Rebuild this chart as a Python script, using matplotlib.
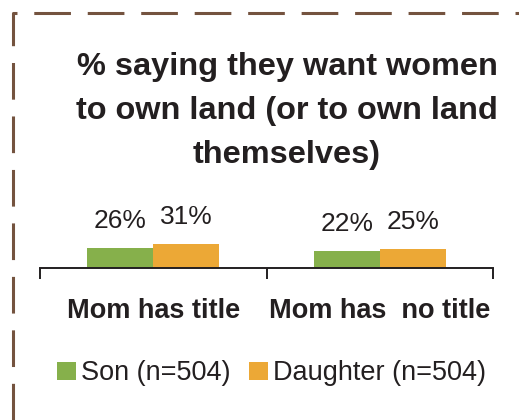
import matplotlib
matplotlib.use("Agg")
import matplotlib.pyplot as plt
from matplotlib.lines import Line2D
from matplotlib.patches import Patch
import numpy as np

plt.rcParams['font.family'] = ['Liberation Sans', 'DejaVu Sans']

categories = ["Mom has title", "Mom has  no title"]
series_names = ["Son (n=504)", "Daughter (n=504)"]
son = [26, 22]
daughter = [31, 25]
value_labels_son = ["26%", "22%"]
value_labels_daughter = ["31%", "25%"]
title = "% saying they want women\nto own land (or to own land\nthemselves)"

GREEN = "#86b04b"
ORANGE = "#eca836"
TEXT = "#231f20"
BORDER = "#74533f"

W, H = 519, 420
fig = plt.figure(figsize=(W / 100, H / 100), dpi=100)

def fx(px):
    return px / W

def fy(py):
    return 1 - py / H

# dashed border (left and top)
fig.add_artist(Line2D([fx(13), fx(13), fx(519)], [fy(420), fy(13), fy(13)],
                      transform=fig.transFigure, color=BORDER, lw=2.2,
                      linestyle=(0, (12, 5.5))))

# axes: baseline at y=268px, x from 40 to 493px
ax_left, ax_right = 40, 493
ax_bottom, ax_top = 268, 168
ax = fig.add_axes([fx(ax_left), fy(ax_bottom), fx(ax_right - ax_left), (ax_bottom - ax_top) / H])
ax.set_xlim(-0.5, 1.5)
ax.set_ylim(0, 131.5)

x = np.arange(len(categories))
bw = 0.291
ax.bar(x - bw / 2, son, bw, color=GREEN, zorder=1)
ax.bar(x + bw / 2, daughter, bw, color=ORANGE, zorder=1)

for xi, v, lab in zip(x - bw / 2, son, value_labels_son):
    ax.annotate(lab, (xi, v), xytext=(0, 14.5), textcoords='offset points',
                ha='center', va='baseline', fontsize=19, color=TEXT)
for xi, v, lab in zip(x + bw / 2, daughter, value_labels_daughter):
    ax.annotate(lab, (xi, v), xytext=(0, 14.5), textcoords='offset points',
                ha='center', va='baseline', fontsize=19, color=TEXT)

for s in ['top', 'right', 'left']:
    ax.spines[s].set_visible(False)
ax.spines['bottom'].set_color(TEXT)
ax.spines['bottom'].set_linewidth(1.4)
ax.spines['bottom'].set_zorder(3)
ax.set_yticks([])
ax.set_xticks(x)
ax.set_xticklabels(categories, fontsize=19.5, fontweight='bold', color=TEXT)
ax.tick_params(axis='x', which='major', length=0, pad=21.5)
ax.set_xticks([-0.5, 0.5, 1.5], minor=True)
ax.tick_params(axis='x', which='minor', length=8, width=1.4, color=TEXT, direction='out')

fig.text(fx(287), fy(111), title, ha='center', va='center', fontsize=23.4,
         fontweight='bold', color=TEXT, linespacing=1.6)

handles = [Patch(facecolor=GREEN, edgecolor='none'), Patch(facecolor=ORANGE, edgecolor='none')]
leg = fig.legend(handles, series_names, loc='center', bbox_to_anchor=(fx(271.5), fy(373.5)),
                 ncol=2, frameon=False, fontsize=19.5, handlelength=0.7, handleheight=0.65,
                 handletextpad=0.2, columnspacing=0.65, borderpad=0, borderaxespad=0)
for t in leg.get_texts():
    t.set_color(TEXT)

fig.savefig("out.png", dpi=100)
